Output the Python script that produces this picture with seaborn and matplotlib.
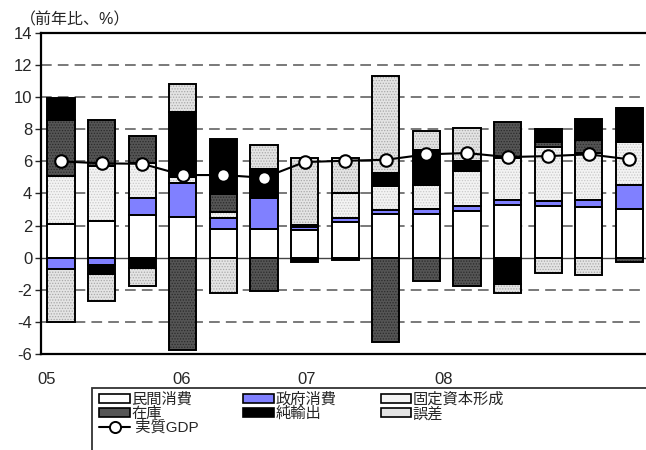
import numpy as np
import pandas as pd
import seaborn as sns
import matplotlib
matplotlib.use("Agg")
import matplotlib.pyplot as plt
from matplotlib.patches import Patch, Rectangle
from matplotlib.lines import Line2D

# Contributions to real GDP growth (year-on-year, %), quarterly
quarters = ["05Q2", "05Q3", "05Q4", "06Q1", "06Q2", "06Q3", "06Q4", "07Q1",
            "07Q2", "07Q3", "07Q4", "08Q1", "08Q2", "08Q3", "08Q4"]
private_cons = [2.1, 2.3, 2.65, 2.55, 1.8, 1.8, 1.75, 2.25, 2.73, 2.73, 2.94, 3.31, 3.25, 3.17, 3.04]
gov_cons = [-0.7, -0.45, 1.05, 2.1, 0.65, 1.9, 0.15, 0.2, 0.23, 0.33, 0.27, 0.27, 0.27, 0.45, 1.46]
fixed_inv = [3.0, 3.4, 2.2, 0.4, 0.4, 0.15, 0.15, 1.6, 1.5, 1.5, 2.2, 2.65, 3.38, 2.9, 2.7]
inventory = [3.45, 2.85, 1.7, -5.75, 1.1, -2.05, 0.0, 0.0, -5.25, -1.48, -1.75, 2.23, 0.3, 0.83, -0.27]
net_exports = [1.4, -0.55, -0.65, 4.0, 3.44, 1.7, -0.25, -0.13, 0.8, 2.15, 0.6, -1.63, 0.83, 1.3, 2.12]
discrepancy = [-3.3, -1.67, -1.1, 1.8, -2.2, 1.5, 4.14, 2.15, 6.08, 1.2, 2.06, -0.54, -0.96, -1.1, 0.0]
real_gdp = [6.0, 5.88, 5.85, 5.15, 5.15, 4.98, 5.96, 6.04, 6.1, 6.44, 6.52, 6.27, 6.33, 6.44, 6.13]

year_labels = ["05", "06", "07", "08"]
year_label_pos = [-0.35, 2.98, 6.06, 9.43]

series_names = ["民間消費", "政府消費", "固定資本形成", "在庫", "純輸出", "誤差"]
series_values = [private_cons, gov_cons, fixed_inv, inventory, net_exports, discrepancy]
series_colors = ["#ffffff", "#8080ff", "#f3f3f3", "#555555", "#000000", "#e4e4e4"]
# stipple overlay for textured fills (None = plain fill)
series_stipple = [None, None, "#c8c8c8", "#2a2a2a", None, "#a8a8a8"]

sns.set_style("white")
plt.rcParams["font.family"] = ["Liberation Sans", "Noto Sans CJK JP", "DejaVu Sans"]
plt.rcParams["hatch.linewidth"] = 0.6

fig = plt.figure(figsize=(6.46, 4.5), dpi=100)
ax = fig.add_axes([40.7 / 646, 1 - 354 / 450, 609 / 646, (354 - 33) / 450])

x = np.arange(len(quarters))
pos_base = np.zeros(len(quarters))
neg_base = np.zeros(len(quarters))
for name, vals, col, stip in zip(series_names, series_values, series_colors, series_stipple):
    v = np.asarray(vals, dtype=float)
    bottom = np.where(v >= 0, pos_base, neg_base)
    ax.bar(x, v, bottom=bottom, width=0.67, color=col, edgecolor="none",
           linewidth=0, zorder=3)
    if stip is not None:
        ax.bar(x, v, bottom=bottom, width=0.67, facecolor="none", edgecolor=stip,
               linewidth=0, hatch="......", zorder=3.2)
    ax.bar(x, v, bottom=bottom, width=0.67, facecolor="none", edgecolor="black",
           linewidth=1.4, zorder=3.4)
    pos_base = pos_base + np.where(v > 0, v, 0)
    neg_base = neg_base + np.where(v < 0, v, 0)

gdp_df = pd.DataFrame({"x": x, "gdp": real_gdp})
sns.lineplot(data=gdp_df, x="x", y="gdp", ax=ax, color="black", linewidth=1.5,
             marker="o", markersize=9, markerfacecolor="white",
             markeredgecolor="black", markeredgewidth=1.5, zorder=5)

ax.set_xlim(-0.5, 14.5)
ax.set_ylim(-6, 14)
ax.set_yticks(np.arange(-6, 15, 2))
ax.set_yticklabels([str(t) for t in range(-6, 15, 2)], fontsize=12)
ax.set_xticks(year_label_pos)
ax.set_xticklabels(year_labels, fontsize=12)
ax.tick_params(axis="x", length=0, pad=13)
ax.tick_params(axis="y", length=4, width=1, direction="out", pad=2, left=True)
ax.set_xlabel("")
ax.set_ylabel("")

for yv in range(-4, 14, 2):
    if yv == 0:
        continue
    ax.axhline(yv, color="#555555", linewidth=1.1, linestyle=(0, (7, 4)), zorder=1)
ax.axhline(0, color="#444444", linewidth=1.0, zorder=2)

for side in ["left", "top", "bottom"]:
    ax.spines[side].set_visible(True)
    ax.spines[side].set_color("black")
    ax.spines[side].set_linewidth(1.6)
ax.spines["right"].set_visible(False)

fig.text(20 / 646, 1 - 20 / 450, "（前年比、%）", fontsize=11.5, ha="left", va="center")

# Legend in a frame that runs off the lower right edge
fig.patches.append(Rectangle((92 / 646, -0.1), 1.0, 0.1 + 1 - 388 / 450,
                             transform=fig.transFigure, fill=False,
                             edgecolor="#333333", linewidth=1.3, zorder=0))

patch_h = {n: Patch(facecolor=c, edgecolor="black", linewidth=1.2)
           for n, c in zip(series_names, series_colors)}
gdp_h = Line2D([], [], color="black", linewidth=1.5, marker="o", markersize=8,
               markerfacecolor="white", markeredgecolor="black", markeredgewidth=1.4)
handles = [patch_h["民間消費"], patch_h["在庫"], gdp_h,
           patch_h["政府消費"], patch_h["純輸出"],
           patch_h["固定資本形成"], patch_h["誤差"]]
labels = ["民間消費", "在庫", " 実質GDP", "政府消費", "純輸出", "固定資本形成", "誤差"]
fig.legend(handles, labels, loc="upper left",
           bbox_to_anchor=(97 / 646, 1 - 390 / 450), bbox_transform=fig.transFigure,
           ncol=3, frameon=False, fontsize=11, handlelength=2.0, handleheight=0.55,
           handletextpad=0.1, columnspacing=2.9, labelspacing=0.0, borderpad=0.15,
           borderaxespad=0)

fig.savefig("out.png", dpi=100)
